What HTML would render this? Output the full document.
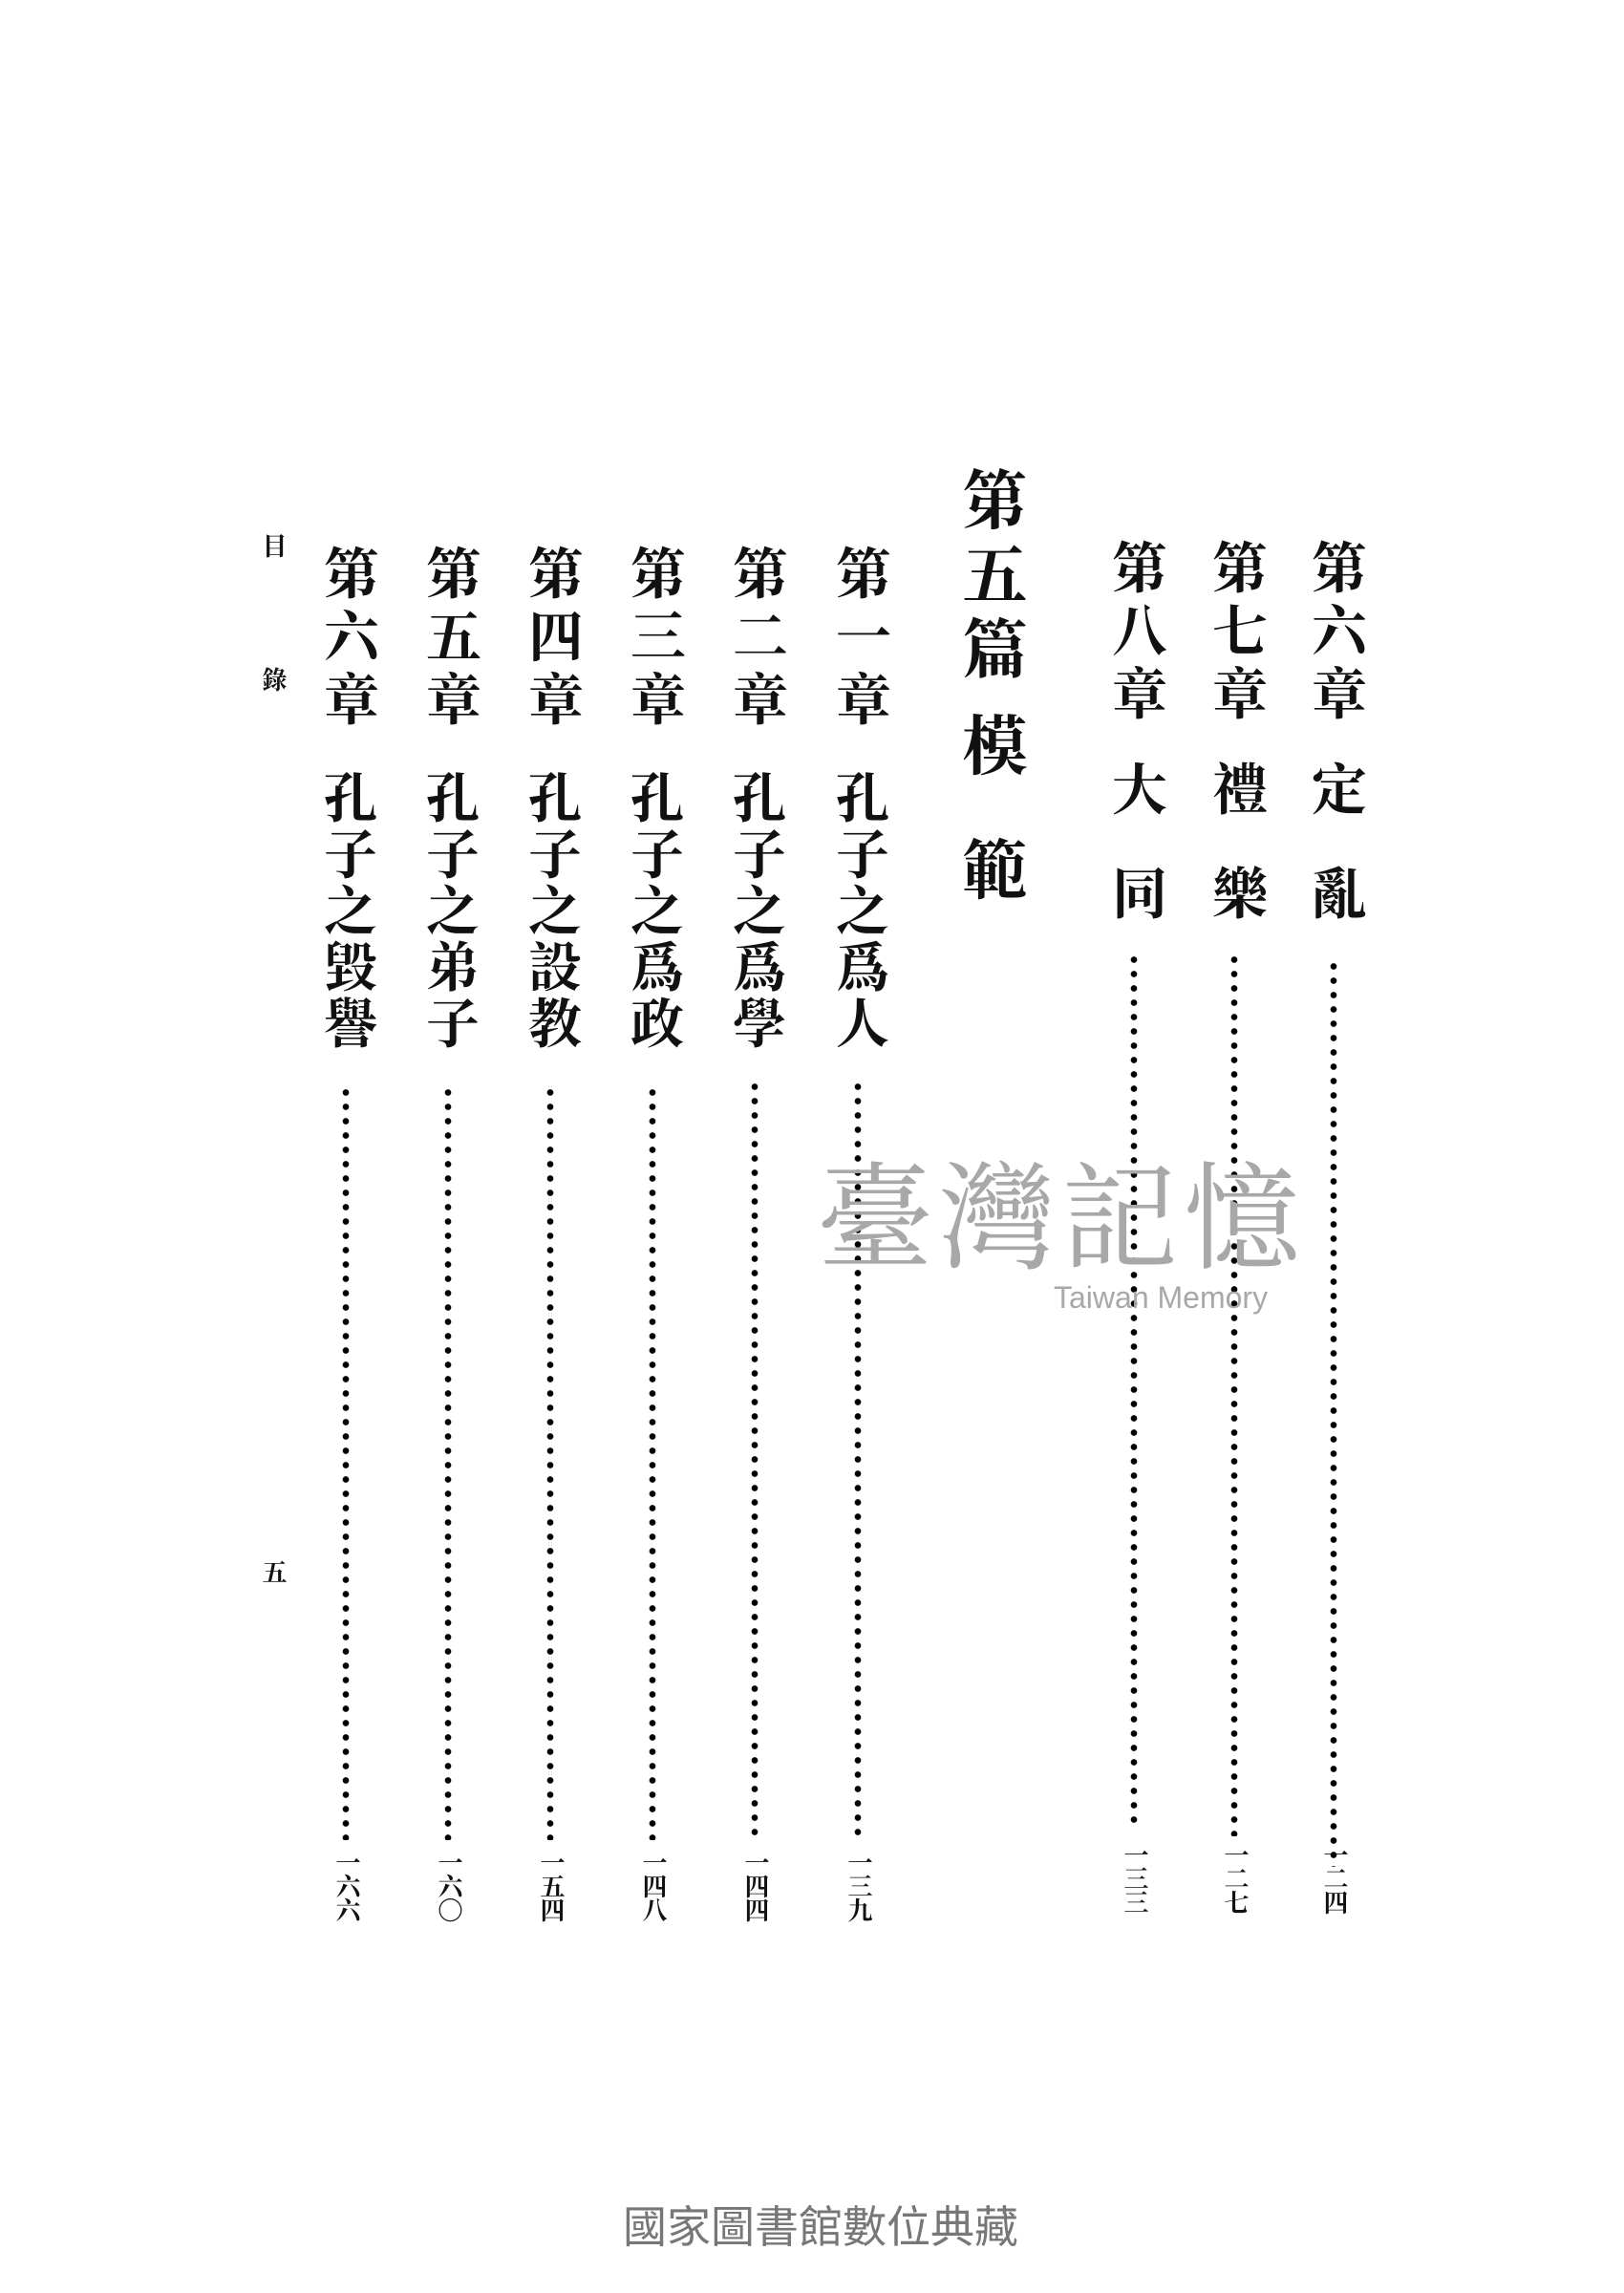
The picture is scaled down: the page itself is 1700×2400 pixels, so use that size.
<!DOCTYPE html>
<html><head><meta charset="utf-8">
<style>
html,body{margin:0;padding:0;background:#fff;}
body{width:1700px;height:2400px;position:relative;overflow:hidden;font-family:"Liberation Serif","Noto Serif CJK SC",serif;color:#111;}
.v{position:absolute;writing-mode:vertical-rl;font-weight:700;white-space:nowrap;line-height:1;}
.c{font-size:58px;letter-spacing:8px;width:58px;}
.t{font-size:56px;letter-spacing:3px;width:56px;}
.h{font-size:68px;letter-spacing:10px;width:68px;}
.d{position:absolute;width:8px;background:radial-gradient(circle,#000 3px,transparent 3.6px) 0 0/8px 15px repeat-y;}
.n{font-size:26px;letter-spacing:-1px;width:26px;}
.wm{position:absolute;color:#a8a8a8;font-family:"Noto Serif CJK SC",serif;}
</style></head><body>

<div class="v c" style="left:1367px;top:564px">第六章</div>
<div class="v c" style="left:1367px;top:796px">定</div>
<div class="v c" style="left:1367px;top:905px">亂</div>
<div class="d" style="left:1392px;top:1004px;height:950px"></div>
<div class="v n" style="left:1383px;top:1928px">一二四</div>

<div class="v c" style="left:1263px;top:564px">第七章</div>
<div class="v c" style="left:1263px;top:796px">禮</div>
<div class="v c" style="left:1263px;top:905px">樂</div>
<div class="d" style="left:1288px;top:997px;height:925px"></div>
<div class="v n" style="left:1279px;top:1928px">一二七</div>

<div class="v c" style="left:1158px;top:564px">第八章</div>
<div class="v c" style="left:1158px;top:796px">大</div>
<div class="v c" style="left:1158px;top:905px">同</div>
<div class="d" style="left:1183px;top:997px;height:918px"></div>
<div class="v n" style="left:1174px;top:1928px">一三三</div>

<div class="v h" style="left:1002px;top:488px">第五篇</div>
<div class="v h" style="left:1002px;top:745px">模</div>
<div class="v h" style="left:1002px;top:875px">範</div>

<div class="v c" style="left:869px;top:570px">第一章</div>
<div class="v t" style="left:870px;top:806px">孔子之爲人</div>
<div class="d" style="left:894px;top:1130px;height:795px"></div>
<div class="v n" style="left:885px;top:1936px">一三九</div>

<div class="v c" style="left:761px;top:570px">第二章</div>
<div class="v t" style="left:762px;top:806px">孔子之爲學</div>
<div class="d" style="left:786px;top:1130px;height:795px"></div>
<div class="v n" style="left:777px;top:1936px">一四四</div>

<div class="v c" style="left:654px;top:570px">第三章</div>
<div class="v t" style="left:655px;top:806px">孔子之爲政</div>
<div class="d" style="left:679px;top:1136px;height:790px"></div>
<div class="v n" style="left:670px;top:1936px">一四八</div>

<div class="v c" style="left:547px;top:570px">第四章</div>
<div class="v t" style="left:548px;top:806px">孔子之設教</div>
<div class="d" style="left:572px;top:1136px;height:790px"></div>
<div class="v n" style="left:563px;top:1936px">一五四</div>

<div class="v c" style="left:440px;top:570px">第五章</div>
<div class="v t" style="left:441px;top:806px">孔子之弟子</div>
<div class="d" style="left:465px;top:1136px;height:790px"></div>
<div class="v n" style="left:456px;top:1936px">一六〇</div>

<div class="v c" style="left:333px;top:570px">第六章</div>
<div class="v t" style="left:334px;top:806px">孔子之毀譽</div>
<div class="d" style="left:358px;top:1136px;height:790px"></div>
<div class="v n" style="left:349px;top:1936px">一六六</div>

<div class="v" style="left:272px;top:558px;font-size:26px;font-weight:700">目</div>
<div class="v" style="left:272px;top:698px;font-size:26px;font-weight:700">錄</div>
<div class="v" style="left:272px;top:1632px;font-size:26px;font-weight:700">五</div>

<div class="wm" style="left:855px;top:1205px;font-size:122px;letter-spacing:6px;white-space:nowrap;line-height:1">臺灣記憶</div>
<div class="wm" style="left:1103px;top:1340px;font-size:32px;font-family:'Liberation Sans',sans-serif;white-space:nowrap">Taiwan Memory</div>

<div class="wm" style="left:652px;top:2308px;font-size:46px;color:#777;font-family:'Liberation Sans','Noto Sans CJK TC',sans-serif;white-space:nowrap;line-height:1">國家圖書館數位典藏</div>
</body></html>
